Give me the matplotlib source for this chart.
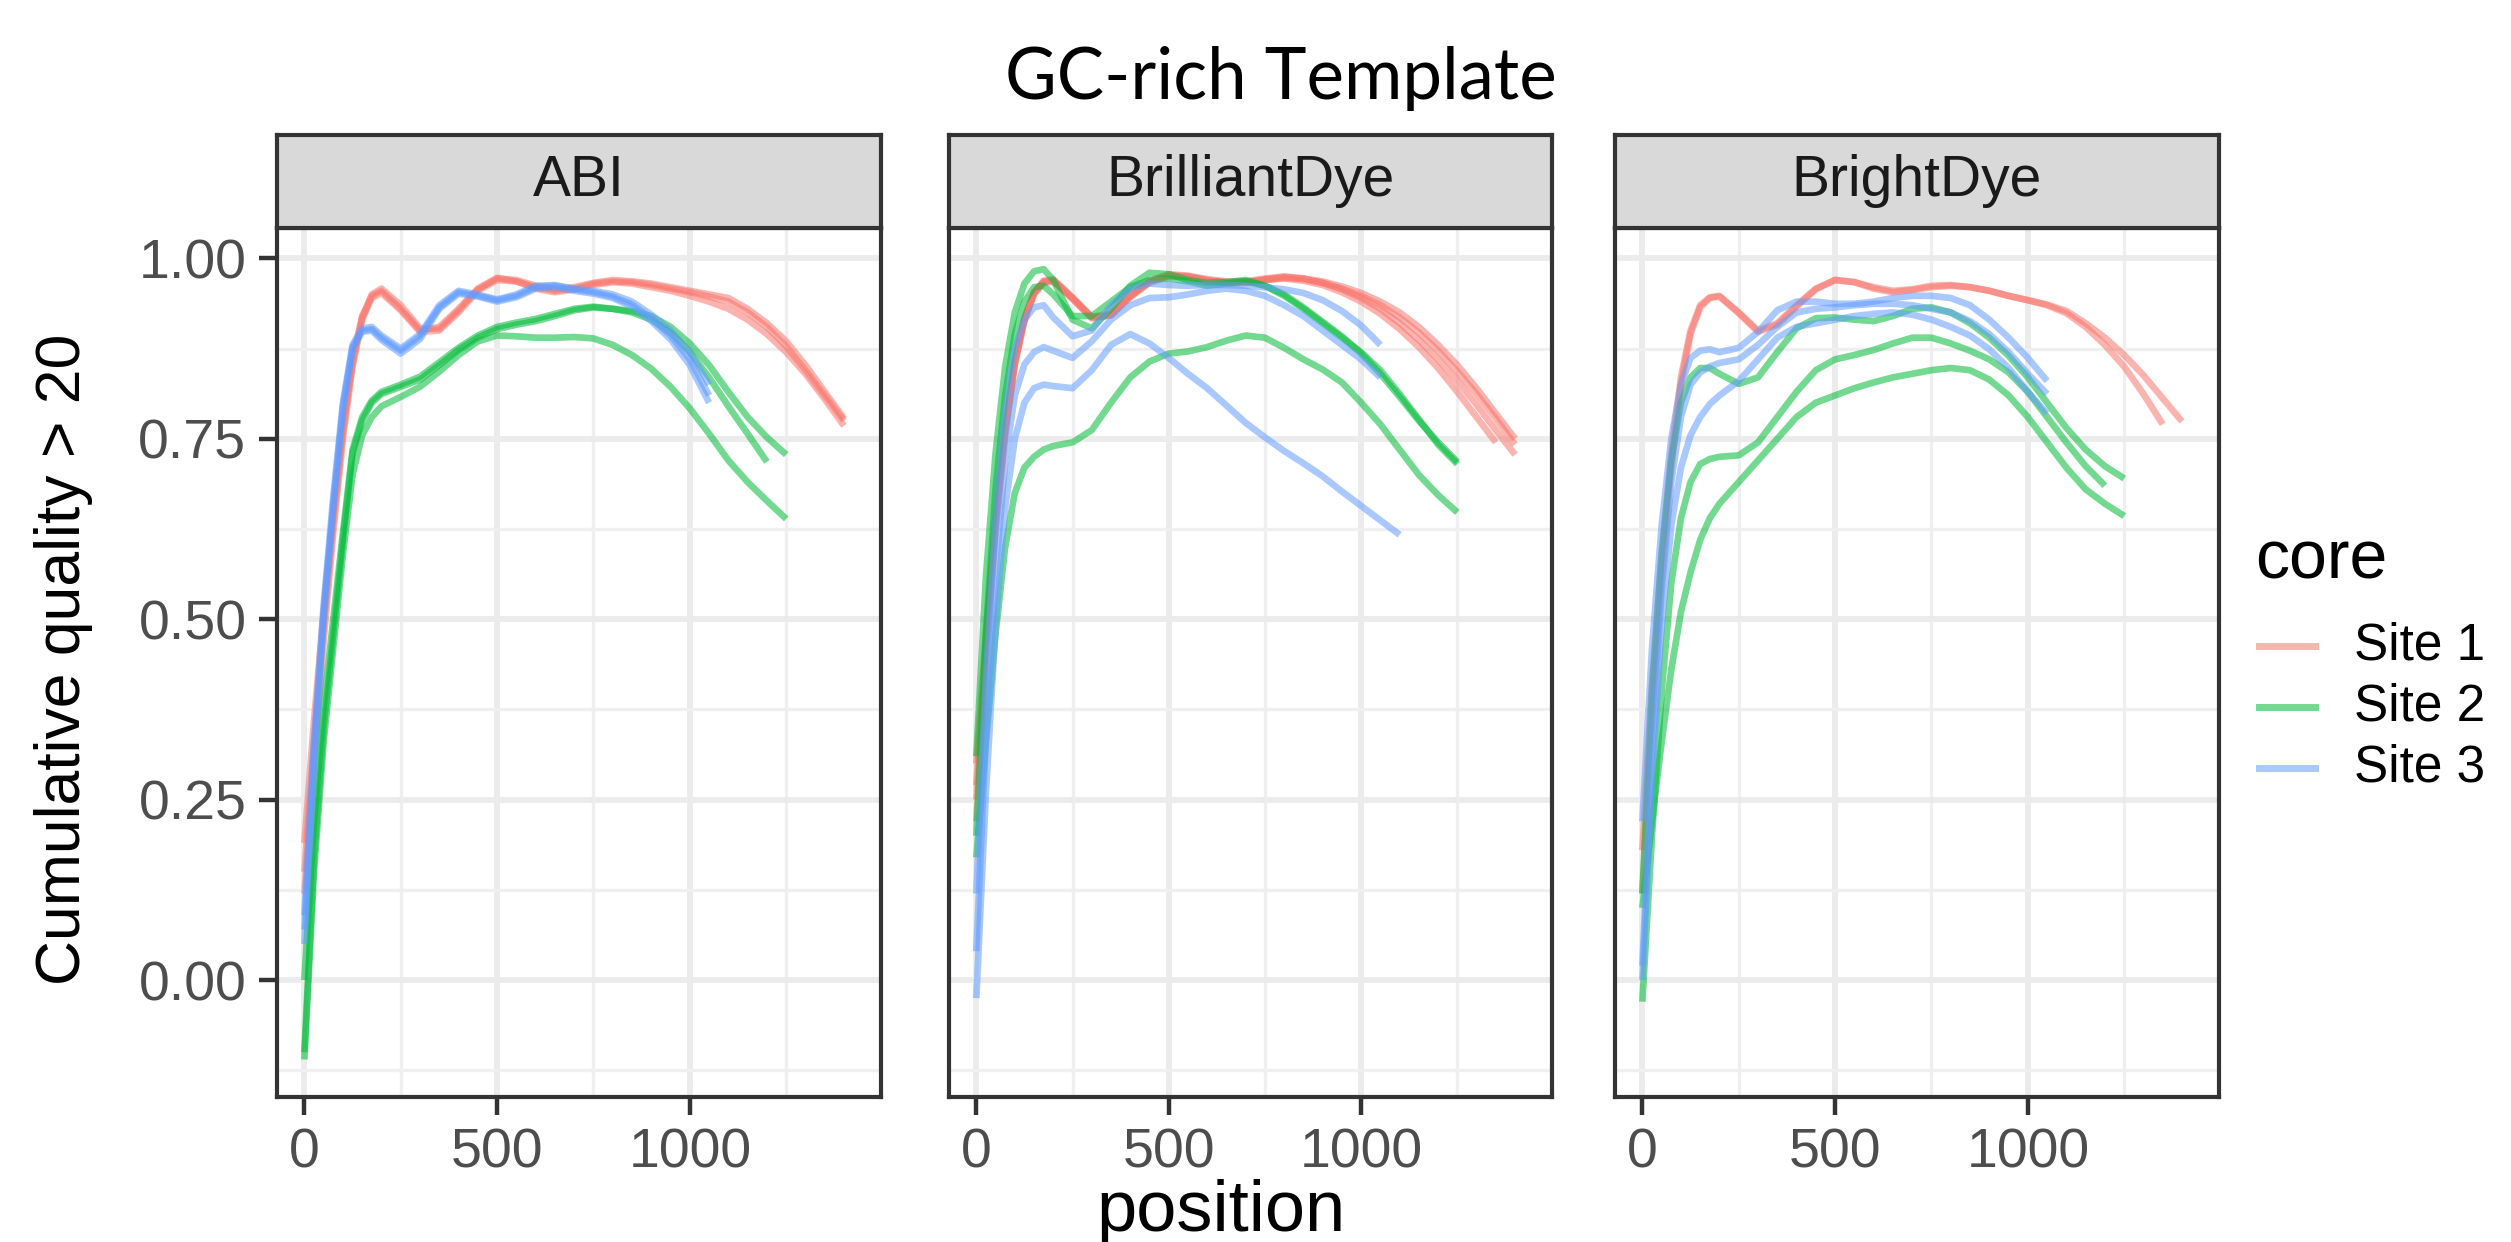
import matplotlib
matplotlib.use("Agg")
import matplotlib.pyplot as plt
from matplotlib.lines import Line2D

plt.rcParams["font.family"] = ["Liberation Sans", "DejaVu Sans"]

# read positions (shared grid, each curve stops where its list ends)
pos = [0, 25, 50, 75, 100, 125, 150, 175, 200, 250, 300, 350, 400, 450, 500,
       550, 600, 650, 700, 750, 800, 850, 900, 950, 1000, 1050, 1100, 1150,
       1200, 1250, 1300, 1350, 1400]

dyes = ["ABI", "BrilliantDye", "BrightDye"]
sites = ["Site 1", "Site 2", "Site 3"]
site_colors = ["#F8766D", "#00BA38", "#619CFF"]

abi_site1 = [
    [0.19, 0.36, 0.51, 0.65, 0.77, 0.86, 0.92, 0.948, 0.955, 0.93, 0.90, 0.905, 0.93, 0.958, 0.973, 0.968, 0.96,
     0.955, 0.958, 0.965, 0.968, 0.967, 0.963, 0.958, 0.953, 0.947, 0.94, 0.925, 0.905, 0.878, 0.845, 0.81, 0.775],
    [0.12, 0.30, 0.47, 0.62, 0.75, 0.85, 0.915, 0.945, 0.952, 0.928, 0.898, 0.90, 0.925, 0.955, 0.97, 0.968, 0.958,
     0.953, 0.957, 0.963, 0.967, 0.965, 0.96, 0.955, 0.948, 0.94, 0.93, 0.915, 0.895, 0.87, 0.84, 0.805, 0.768],
    [0.15, 0.33, 0.49, 0.635, 0.76, 0.855, 0.918, 0.95, 0.958, 0.935, 0.903, 0.902, 0.928, 0.957, 0.972, 0.97, 0.962,
     0.957, 0.96, 0.966, 0.97, 0.968, 0.965, 0.96, 0.955, 0.95, 0.945, 0.93, 0.91, 0.885, 0.852, 0.815, 0.778],
]
abi_site2 = [
    [-0.10, 0.17, 0.35, 0.48, 0.61, 0.73, 0.775, 0.80, 0.812, 0.822, 0.832, 0.852, 0.873, 0.89, 0.902, 0.908, 0.913,
     0.92, 0.928, 0.932, 0.93, 0.927, 0.92, 0.905, 0.882, 0.852, 0.815, 0.78, 0.752, 0.728],
    [0.0, 0.22, 0.38, 0.50, 0.62, 0.735, 0.78, 0.803, 0.815, 0.825, 0.836, 0.856, 0.876, 0.893, 0.905, 0.911, 0.916,
     0.923, 0.93, 0.933, 0.93, 0.925, 0.915, 0.897, 0.87, 0.835, 0.795, 0.757, 0.718],
    [-0.11, 0.15, 0.33, 0.46, 0.59, 0.70, 0.755, 0.78, 0.795, 0.808, 0.822, 0.843, 0.866, 0.885, 0.893, 0.892, 0.89,
     0.89, 0.891, 0.889, 0.88, 0.866, 0.847, 0.822, 0.792, 0.757, 0.72, 0.69, 0.664, 0.639],
]
abi_site3 = [
    [0.09, 0.33, 0.52, 0.67, 0.80, 0.88, 0.903, 0.905, 0.893, 0.875, 0.895, 0.935, 0.955, 0.95, 0.943, 0.95, 0.962,
     0.963, 0.958, 0.955, 0.95, 0.94, 0.922, 0.90, 0.87, 0.825],
    [0.07, 0.31, 0.51, 0.66, 0.795, 0.877, 0.90, 0.902, 0.89, 0.872, 0.892, 0.932, 0.953, 0.948, 0.942, 0.948, 0.96,
     0.962, 0.957, 0.953, 0.947, 0.936, 0.917, 0.893, 0.86, 0.81],
    [0.05, 0.30, 0.50, 0.655, 0.79, 0.875, 0.898, 0.90, 0.887, 0.868, 0.888, 0.93, 0.951, 0.947, 0.94, 0.946, 0.958,
     0.96, 0.955, 0.951, 0.945, 0.933, 0.913, 0.888, 0.852, 0.80],
]

bril_site1 = [
    [0.30, 0.48, 0.64, 0.765, 0.858, 0.917, 0.953, 0.969, 0.971, 0.946, 0.919, 0.923, 0.949, 0.969, 0.978, 0.976,
     0.971, 0.968, 0.968, 0.972, 0.975, 0.972, 0.966, 0.957, 0.945, 0.93, 0.91, 0.887, 0.86, 0.83, 0.797, 0.762, 0.728],
    [0.25, 0.46, 0.63, 0.76, 0.855, 0.915, 0.952, 0.968, 0.97, 0.945, 0.918, 0.922, 0.948, 0.968, 0.977, 0.975,
     0.97, 0.967, 0.967, 0.971, 0.974, 0.972, 0.968, 0.961, 0.952, 0.94, 0.925, 0.905, 0.88, 0.852, 0.82, 0.785, 0.75],
    [0.27, 0.47, 0.635, 0.762, 0.856, 0.916, 0.952, 0.967, 0.969, 0.944, 0.917, 0.921, 0.947, 0.967, 0.976, 0.974,
     0.969, 0.966, 0.966, 0.97, 0.972, 0.969, 0.963, 0.953, 0.94, 0.923, 0.902, 0.877, 0.848, 0.815, 0.78, 0.745],
    [0.22, 0.44, 0.62, 0.755, 0.852, 0.913, 0.95, 0.966, 0.968, 0.944, 0.918, 0.921, 0.946, 0.966, 0.975, 0.974,
     0.969, 0.966, 0.966, 0.97, 0.973, 0.971, 0.966, 0.958, 0.948, 0.935, 0.918, 0.897, 0.872, 0.843, 0.812, 0.778,
     0.742],
]
bril_site2 = [
    [0.31, 0.56, 0.73, 0.85, 0.925, 0.965, 0.982, 0.985, 0.97, 0.915, 0.903, 0.93, 0.962, 0.98, 0.978, 0.97, 0.966,
     0.967, 0.97, 0.962, 0.948, 0.93, 0.91, 0.89, 0.87, 0.845, 0.812, 0.777, 0.742, 0.715],
    [0.20, 0.48, 0.68, 0.81, 0.895, 0.94, 0.96, 0.962, 0.95, 0.92, 0.92, 0.94, 0.96, 0.97, 0.972, 0.968, 0.962,
     0.965, 0.968, 0.962, 0.95, 0.932, 0.912, 0.892, 0.868, 0.84, 0.808, 0.775, 0.745, 0.718],
    [0.17, 0.33, 0.48, 0.60, 0.675, 0.71, 0.725, 0.735, 0.74, 0.745, 0.762, 0.80, 0.835, 0.857, 0.868, 0.871, 0.877,
     0.886, 0.893, 0.89, 0.876, 0.86, 0.846, 0.828, 0.80, 0.77, 0.735, 0.70, 0.672, 0.648],
]
bril_site3 = [
    [0.12, 0.42, 0.64, 0.79, 0.875, 0.915, 0.932, 0.935, 0.918, 0.892, 0.90, 0.935, 0.958, 0.965, 0.963, 0.962,
     0.963, 0.963, 0.962, 0.96, 0.957, 0.952, 0.942, 0.927, 0.907, 0.88],
    [0.04, 0.34, 0.56, 0.72, 0.81, 0.853, 0.87, 0.877, 0.872, 0.862, 0.885, 0.915, 0.935, 0.945, 0.946, 0.95, 0.955,
     0.958, 0.955, 0.948, 0.935, 0.92, 0.90, 0.88, 0.86, 0.835],
    [-0.025, 0.26, 0.49, 0.655, 0.75, 0.80, 0.82, 0.825, 0.823, 0.82, 0.845, 0.88, 0.895, 0.882, 0.862, 0.84, 0.82,
     0.796, 0.772, 0.752, 0.733, 0.716, 0.698, 0.677, 0.657, 0.637, 0.617],
]

bright_site1 = [
    [0.18, 0.41, 0.59, 0.73, 0.835, 0.90, 0.935, 0.946, 0.948, 0.925, 0.90, 0.91, 0.935, 0.958, 0.97, 0.967, 0.96,
     0.955, 0.957, 0.962, 0.963, 0.96, 0.955, 0.948, 0.942, 0.935, 0.924, 0.905, 0.88, 0.85, 0.812, 0.77],
    [0.12, 0.36, 0.56, 0.71, 0.825, 0.895, 0.932, 0.945, 0.947, 0.924, 0.898, 0.908, 0.933, 0.957, 0.97, 0.967,
     0.958, 0.953, 0.956, 0.96, 0.962, 0.96, 0.955, 0.948, 0.942, 0.936, 0.927, 0.91, 0.89, 0.866, 0.838, 0.806,
     0.774],
]
bright_site2 = [
    [0.12, 0.40, 0.59, 0.72, 0.80, 0.835, 0.848, 0.848, 0.84, 0.826, 0.835, 0.87, 0.903, 0.917, 0.918, 0.915, 0.913,
     0.92, 0.93, 0.932, 0.925, 0.91, 0.89, 0.865, 0.835, 0.80, 0.765, 0.735, 0.712, 0.695],
    [-0.03, 0.20, 0.40, 0.55, 0.64, 0.69, 0.715, 0.722, 0.725, 0.727, 0.745, 0.78, 0.815, 0.845, 0.86, 0.866, 0.873,
     0.882, 0.89, 0.89, 0.882, 0.872, 0.86, 0.842, 0.815, 0.78, 0.745, 0.712, 0.685],
    [0.10, 0.22, 0.33, 0.43, 0.51, 0.565, 0.61, 0.64, 0.66, 0.69, 0.72, 0.75, 0.78, 0.80, 0.81, 0.82, 0.828, 0.835,
     0.84, 0.845, 0.848, 0.845, 0.832, 0.81, 0.78, 0.745, 0.71, 0.68, 0.66, 0.643],
]
bright_site3 = [
    [0.22, 0.46, 0.63, 0.75, 0.825, 0.862, 0.872, 0.874, 0.87, 0.876, 0.898, 0.928, 0.94, 0.94, 0.937, 0.937, 0.94,
     0.945, 0.948, 0.948, 0.945, 0.935, 0.915, 0.89, 0.862, 0.83],
    [0.02, 0.32, 0.54, 0.69, 0.78, 0.825, 0.842, 0.85, 0.855, 0.86, 0.88, 0.905, 0.925, 0.93, 0.932, 0.935, 0.937,
     0.937, 0.935, 0.93, 0.925, 0.913, 0.895, 0.87, 0.84, 0.812],
    [0.0, 0.28, 0.49, 0.63, 0.71, 0.755, 0.78, 0.798, 0.81, 0.83, 0.86, 0.89, 0.905, 0.91, 0.915, 0.92, 0.923, 0.925,
     0.922, 0.915, 0.905, 0.893, 0.874, 0.848, 0.815, 0.785],
]

panels = {
    "ABI": [abi_site1, abi_site2, abi_site3],
    "BrilliantDye": [bril_site1, bril_site2, bril_site3],
    "BrightDye": [bright_site1, bright_site2, bright_site3],
}

W, H = 2511, 1242
fig = plt.figure(figsize=(W / 100, H / 100), dpi=100)


def box(l, t, r, b):
    return [l / W, 1 - b / H, (r - l) / W, (b - t) / H]


panel_x = [(277, 881), (949, 1552), (1615, 2219)]
dark = "#333333"

for i, dye in enumerate(dyes):
    l, r = panel_x[i]
    ax = fig.add_axes(box(l, 228, r, 1097))
    for color, curves in zip(site_colors, panels[dye]):
        for y in curves:
            ax.plot(pos[:len(y)], y, color=color, alpha=0.55, lw=4.8,
                    solid_capstyle="butt", solid_joinstyle="round")
    ax.set_xlim(-71, 1496)
    ax.set_ylim(-0.162, 1.042)
    ax.set_xticks([0, 500, 1000])
    ax.set_xticks([250, 750, 1250], minor=True)
    ax.set_yticks([0, 0.25, 0.5, 0.75, 1.0])
    ax.set_yticks([-0.125, 0.125, 0.375, 0.625, 0.875], minor=True)
    ax.set_yticklabels(["0.00", "0.25", "0.50", "0.75", "1.00"])
    ax.grid(which="major", color="#EBEBEB", lw=4.2)
    ax.grid(which="minor", color="#EFEFEF", lw=2.4)
    ax.set_axisbelow(True)
    ax.tick_params(which="minor", length=0)
    ax.tick_params(which="major", length=13, width=3.2, color=dark,
                   labelsize=40, labelcolor="#4D4D4D", pad=9)
    if i > 0:
        ax.tick_params(axis="y", which="both", length=0, labelleft=False)
    for s in ax.spines.values():
        s.set_linewidth(3.0)
        s.set_color(dark)

    strip = fig.add_axes(box(l, 135, r, 228))
    strip.set_facecolor("#D9D9D9")
    strip.set_xticks([])
    strip.set_yticks([])
    for s in strip.spines.values():
        s.set_linewidth(3.0)
        s.set_color(dark)
    strip.text(0.5, 0.5, dye, ha="center", va="center", fontsize=41,
               color="#1A1A1A", transform=strip.transAxes)

fig.text(1281 / W, 1 - 99 / H, "GC-rich Template", ha="center", va="baseline",
         fontsize=51, family=["Lato", "DejaVu Sans"])
fig.text(1221 / W, 1 - 1231 / H, "position", ha="center", va="baseline", fontsize=52)
fig.text(64 / W, 1 - 659 / H, "Cumulative quality > 20", ha="center", va="center",
         rotation=90, fontsize=45)

# legend
fig.text(2255 / W, 1 - 578 / H, "core", ha="left", va="baseline", fontsize=49)
for k, (site, color) in enumerate(zip(sites, site_colors)):
    yk = 1 - (646 + 61 * k) / H
    fig.add_artist(Line2D([2259 / W, 2315 / W], [yk, yk], color=color, alpha=0.55, lw=5,
                          transform=fig.transFigure))
    fig.text(2354 / W, yk, site, ha="left", va="center", fontsize=37)

fig.savefig("out.png", dpi=100)
